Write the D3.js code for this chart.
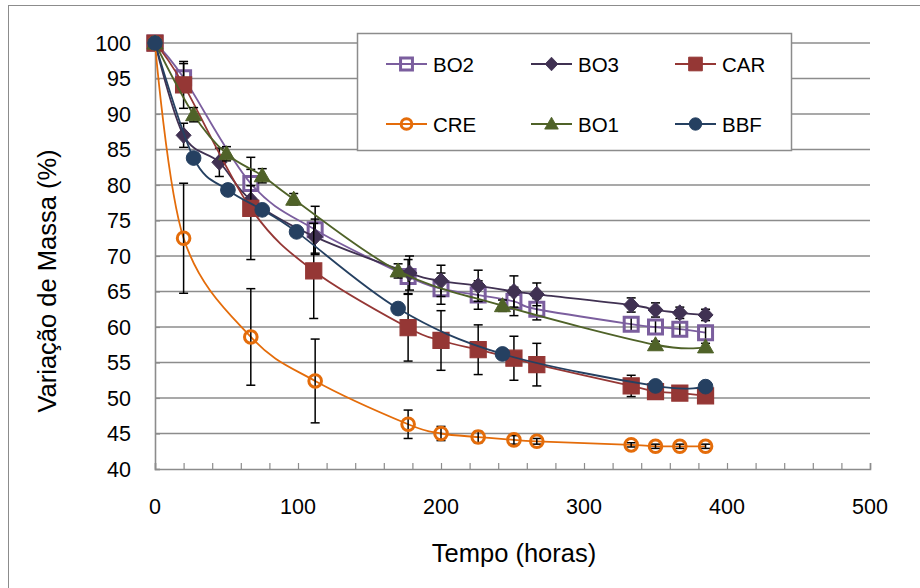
<!DOCTYPE html>
<html>
<head>
<meta charset="utf-8">
<script src="https://cdn.jsdelivr.net/npm/d3@7"></script>
<style>
  body { margin: 0; background: #fff; }
  text { font-family: "Liberation Sans", Arial, sans-serif; }
</style>
</head>
<body>
<svg id="chart" width="920" height="588"></svg>
<script>
// ---- dados ----
const xTicks = [0, 100, 200, 300, 400, 500];
const yTicks = [40, 45, 50, 55, 60, 65, 70, 75, 80, 85, 90, 95, 100];

const tBO2 = [0, 20, 67, 112, 177, 200, 226, 251, 267, 333, 350, 367, 385];
const vBO2 = [100, 95.1, 80.2, 73.7, 67.1, 65.4, 64.5, 63.6, 62.5, 60.4, 60.0, 59.7, 59.2];
const eBO2 = [0, 2.0, 2.0, 3.3, 2.4, 2.2, 2.0, 2.0, 1.5, 1.0, 1.0, 1.0, 1.0];

const tBO3 = [0, 20, 45, 67, 112, 178, 200, 226, 251, 267, 333, 350, 367, 385];
const vBO3 = [100, 87.0, 83.2, 77.9, 72.7, 67.6, 66.5, 65.8, 65.0, 64.6, 63.1, 62.4, 62.0, 61.7];
const eBO3 = [0, 1.7, 2.0, 2.0, 2.5, 2.4, 2.2, 2.2, 2.2, 1.6, 1.0, 1.0, 0.8, 0.8];

const tCAR = [0, 20, 67, 111, 177, 200, 226, 251, 267, 333, 350, 367, 385];
const vCAR = [100, 94.1, 76.7, 67.9, 59.9, 58.1, 56.8, 55.6, 54.7, 51.7, 50.9, 50.7, 50.3];
const eCAR = [0, 3.3, 7.2, 6.7, 4.7, 4.2, 3.5, 3.1, 3.0, 1.5, 1.0, 1.0, 0.8];

const tCRE = [0, 20, 67, 112, 177, 200, 226, 251, 267, 333, 350, 367, 385];
const vCRE = [100, 72.5, 58.6, 52.4, 46.3, 45.0, 44.5, 44.1, 43.9, 43.4, 43.2, 43.2, 43.2];
const eCRE = [0, 7.75, 6.8, 5.9, 2.0, 1.0, 0.8, 0.6, 0.4, 0.3, 0.3, 0.3, 0.3];

const tBO1 = [0, 27, 50, 75, 97, 170, 243, 350, 385];
const vBO1 = [100, 89.9, 84.4, 81.3, 78.0, 67.9, 63.0, 57.5, 57.2];
const eBO1 = [0, 1.0, 1.0, 1.0, 0.8, 1.0, 0.8, 0.5, 0.5];

const tBBF = [0, 27, 51, 75, 99, 170, 243, 350, 385];
const vBBF = [100, 83.8, 79.3, 76.5, 73.4, 62.6, 56.2, 51.7, 51.6];
const eBBF = [0, 0.5, 0.5, 0.5, 0.5, 0.5, 0.5, 0.5, 0.5];

const series = [
  { name: "BO2", t: tBO2, v: vBO2, e: eBO2, color: "#7B5E9E", marker: "square", fill: false },
  { name: "BO3", t: tBO3, v: vBO3, e: eBO3, color: "#403152", marker: "diamond", fill: true },
  { name: "CAR", t: tCAR, v: vCAR, e: eCAR, color: "#953735", marker: "square", fill: true },
  { name: "CRE", t: tCRE, v: vCRE, e: eCRE, color: "#E46C0A", marker: "circle", fill: false },
  { name: "BO1", t: tBO1, v: vBO1, e: eBO1, color: "#4F6228", marker: "triangle", fill: true },
  { name: "BBF", t: tBBF, v: vBBF, e: eBBF, color: "#254061", marker: "circle", fill: true }
];

// ---- layout ----
const svg = d3.select("#chart");
const x = d3.scaleLinear().domain([0, 500]).range([155, 870]);
const y = d3.scaleLinear().domain([40, 100]).range([469, 43]);

// borda do gráfico
svg.append("rect")
  .attr("x", 8.5).attr("y", 5.5)
  .attr("width", 1000).attr("height", 700)
  .attr("fill", "#fff").attr("stroke", "#8c8c8c").attr("stroke-width", 1);

// grade horizontal
svg.append("g")
  .selectAll("line")
  .data(yTicks.slice(1))
  .enter().append("line")
  .attr("x1", x(0)).attr("x2", x(500))
  .attr("y1", d => y(d)).attr("y2", d => y(d))
  .attr("stroke", "#8c8c8c").attr("stroke-width", 1.6);

// eixos
const axisY = svg.append("g").attr("transform", `translate(${x(0)},0)`)
  .call(d3.axisRight(y).tickValues(yTicks).tickSize(5).tickFormat(""));
const axisX = svg.append("g").attr("transform", `translate(0,${y(40)})`)
  .call(d3.axisTop(x).ticks(25).tickSize(6).tickFormat(""));
[axisY, axisX].forEach(g => {
  g.select(".domain").attr("stroke", "#8c8c8c").attr("stroke-width", 1.6);
  g.selectAll(".tick line").attr("stroke", "#8c8c8c").attr("stroke-width", 1.2);
});

// rótulos dos ticks
svg.append("g").selectAll("text")
  .data(yTicks).enter().append("text")
  .attr("x", 131).attr("y", d => y(d) + 7.5)
  .attr("text-anchor", "end").attr("font-size", 21.5)
  .text(d => d);

svg.append("g").selectAll("text")
  .data(xTicks).enter().append("text")
  .attr("x", d => x(d)).attr("y", 514)
  .attr("text-anchor", "middle").attr("font-size", 21.5)
  .text(d => d);

// títulos
svg.append("text")
  .attr("x", 514).attr("y", 562)
  .attr("text-anchor", "middle").attr("font-size", 25.5)
  .text("Tempo (horas)");

svg.append("text")
  .attr("transform", "translate(56,281) rotate(-90)")
  .attr("text-anchor", "middle").attr("font-size", 25.5)
  .text("Variação de Massa (%)");

// marcadores
function markerPath(type) {
  if (type === "square") return "M-7,-7H7V7H-7Z";
  if (type === "diamond") return "M0,-8L7.5,0L0,8L-7.5,0Z";
  if (type === "triangle") return "M0,-8L8,6H-8Z";
  return d3.symbol(d3.symbolCircle, 170)();
}
function drawMarker(g, s, cx, cy, k = 1) {
  let size = (s.marker === "square" && s.fill ? 1.15 : 1) * k;
  let p = g.append("path")
    .attr("d", s.marker === "circle" && !s.fill ? d3.symbol(d3.symbolCircle, 125)() : markerPath(s.marker))
    .attr("transform", `translate(${cx},${cy}) scale(${size})`);
  if (s.fill) {
    p.attr("fill", s.color).attr("stroke", s.color).attr("stroke-width", 1);
  } else {
    p.attr("fill", "none").attr("stroke", s.color).attr("stroke-width", 3 / size);
  }
}

const line = d3.line()
  .x(d => x(d.t)).y(d => y(d.v))
  .curve(d3.curveCardinal.tension(0));

series.forEach(s => {
  const pts = s.t.map((t, i) => ({ t, v: s.v[i], e: s.e[i] }));
  const g = svg.append("g");
  g.append("path")
    .datum(pts)
    .attr("fill", "none")
    .attr("stroke", s.color)
    .attr("stroke-width", 1.8)
    .attr("d", line);

  // barras de erro
  const eb = g.append("g").attr("stroke", "#000").attr("stroke-width", 1.5);
  pts.filter(d => d.e > 0).forEach(d => {
    const cx = x(d.t);
    eb.append("line").attr("x1", cx).attr("x2", cx).attr("y1", y(d.v + d.e)).attr("y2", y(d.v - d.e));
    eb.append("line").attr("x1", cx - 4.5).attr("x2", cx + 4.5).attr("y1", y(d.v + d.e)).attr("y2", y(d.v + d.e));
    eb.append("line").attr("x1", cx - 4.5).attr("x2", cx + 4.5).attr("y1", y(d.v - d.e)).attr("y2", y(d.v - d.e));
  });

  pts.forEach(d => drawMarker(g, s, x(d.t), y(d.v)));
});

// legenda
const legend = svg.append("g");
legend.append("rect")
  .attr("x", 357.5).attr("y", 33.5).attr("width", 434).attr("height", 117)
  .attr("fill", "#fff").attr("stroke", "#8c8c8c").attr("stroke-width", 1.5);

const legX = [386, 531, 675];
const legY = [64, 124];
series.forEach((s, i) => {
  const lx = legX[i % 3], ly = legY[Math.floor(i / 3)];
  const g = legend.append("g");
  g.append("line").attr("x1", lx).attr("x2", lx + 41).attr("y1", ly).attr("y2", ly)
    .attr("stroke", s.color).attr("stroke-width", 1.8);
  drawMarker(g, s, lx + 20.5, ly, 0.85);
  g.append("text").attr("x", lx + 47).attr("y", ly + 7.5)
    .attr("font-size", 20.5).text(s.name);
});
</script>
</body>
</html>
